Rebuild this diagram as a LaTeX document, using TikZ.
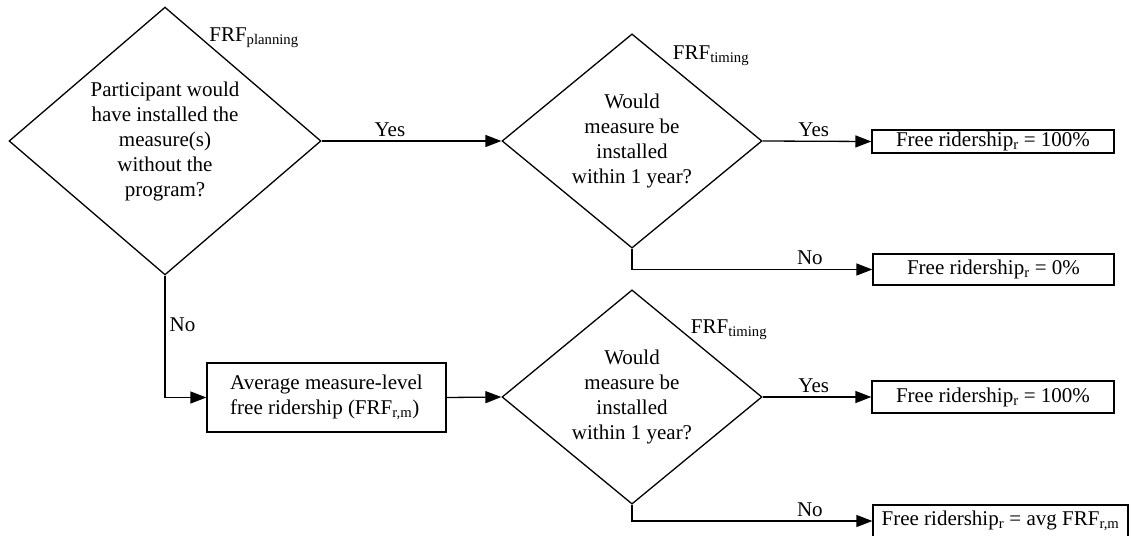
\documentclass[tikz,border=0pt]{standalone}
\usepackage{fontspec}
\setmainfont{Liberation Serif}
\usetikzlibrary{shapes.geometric,arrows.meta}

\begin{document}
\begin{tikzpicture}[x=1pt,y=-1pt,line width=1.3pt,
    every node/.style={font=\fontsize{21}{25}\selectfont},
    >={Triangle[length=16pt,width=12pt]}]
\useasboundingbox (0,0) rectangle (1131,535);

\begin{scope}[every node/.append style={draw,align=center,inner sep=0pt}]
    \node[diamond,minimum width=312pt,minimum height=262pt] (plan) at (165,141)
        {Participant would\\have installed the\\measure(s)\\without the\\program?};
    \node[diamond,minimum width=260pt,minimum height=198pt] (timeA) at (632,141)
        {Would\\measure be\\installed\\within 1 year?};
    \node[diamond,minimum width=260pt,minimum height=198pt] (timeB) at (632,397)
        {Would\\measure be\\installed\\within 1 year?};

    \node[minimum width=239pt,minimum height=69pt,align=left] (avg) at (326.5,397.5)
        {Average measure-level\\free ridership (FRF\textsubscript{r,m})};

    \node[minimum width=242pt,minimum height=23pt] (fullA) at (993,141.5)
        {Free ridership\textsubscript{r} = 100\%};
    \node[minimum width=241pt,minimum height=31pt] (zero) at (993.5,269.5)
        {Free ridership\textsubscript{r} = 0\%};
    \node[minimum width=242pt,minimum height=32pt] (fullB) at (993,397)
        {Free ridership\textsubscript{r} = 100\%};
    \node[minimum width=255pt,minimum height=32pt] (part) at (1000.5,521)
        {Free ridership\textsubscript{r} = avg FRF\textsubscript{r,m}};
\end{scope}

% factor labels
\node (planlbl) at (254,38) {FRF\textsubscript{planning}};
\node (timelblA) at (711,56) {FRF\textsubscript{timing}};
\node (timelblB) at (729,330) {FRF\textsubscript{timing}};

\begin{scope}[every node/.append style={inner sep=4pt}]
    \path [->] (plan.east) edge node[pos=0.38,above] (yesA) {Yes} (timeA.west);
    \path [->] (timeA.east) edge node[pos=0.47,above] (yesB) {Yes} (fullA.west);
    \path [->] (timeB.east) edge node[pos=0.47,above] (yesC) {Yes} (fullB.west);
    \path [->] (avg.east) edge (timeB.west);

    \draw [->] (plan.south) |- (avg.west) node[pos=0.2,right] (noA) {No};
    \draw [->] (timeA.south) |- (zero.west) node[pos=0.87,above] (noB) {No};
    \draw [->] (timeB.south) |- (part.west) node[pos=0.87,above] (noC) {No};
\end{scope}
\end{tikzpicture}
\end{document}
